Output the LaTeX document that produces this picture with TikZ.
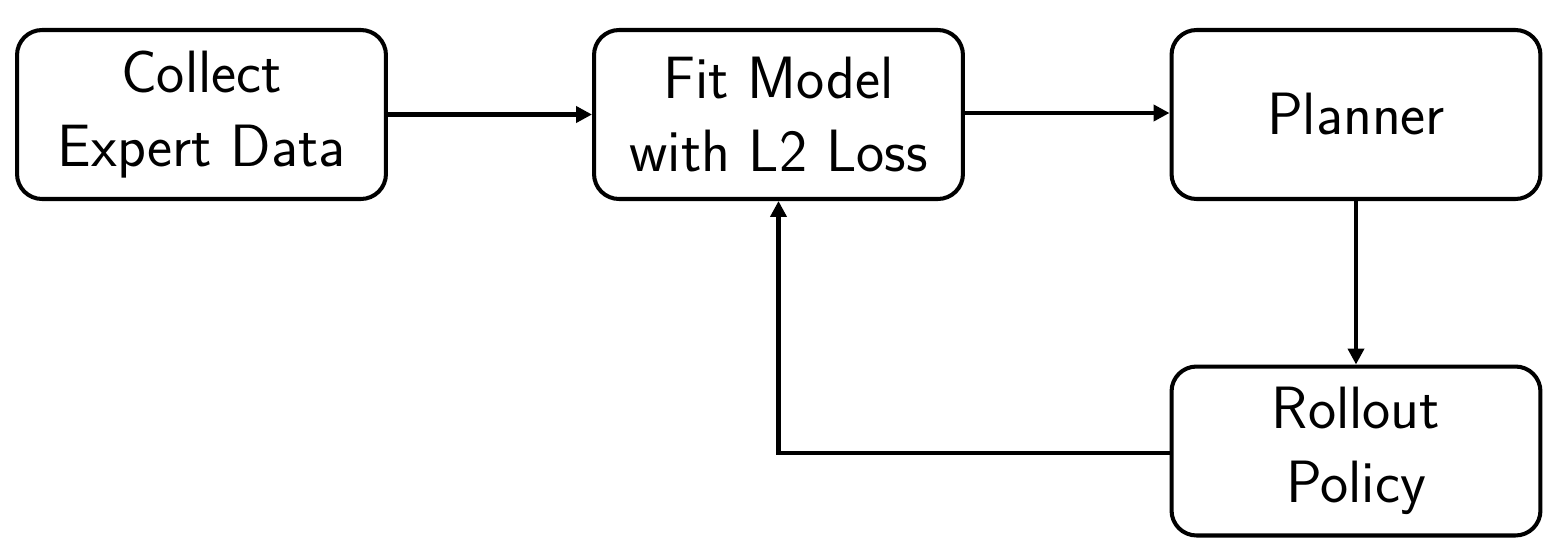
\documentclass[tikz,border=0pt]{standalone}
\usetikzlibrary{arrows.meta}
\begin{document}
\begin{tikzpicture}[x=0.02cm,y=-0.02cm,
  box/.style={draw=black, line width=2.3pt, rounded corners=0.5cm, minimum width=7.38cm, minimum height=3.38cm, inner sep=0pt, align=center, font=\fontsize{34}{42}\selectfont\sffamily},
  conn/.style={line width=2.3pt, -{Triangle[length=9pt,width=9pt]}}]
\useasboundingbox (0,0) rectangle (1543,538);
\node[box] (collect) at (201.5,114.5) {Collect\\Expert Data};
\node[box] (fit) at (778.5,114.5) {Fit Model\\with L2 Loss};
\node[box] (plan) at (1356,114.5) {Planner};
\node[box] (roll) at (1356,451) {Rollout\\Policy};
\draw[conn] (collect.east) -- (fit.west);
\draw[conn] ([yshift=0.03cm]fit.east) -- ([yshift=0.03cm]plan.west);
\draw[conn] (plan.south) -- (roll.north);
\draw[conn] ([yshift=-0.04cm]roll.west) -| (fit.south);
\end{tikzpicture}
\end{document}
